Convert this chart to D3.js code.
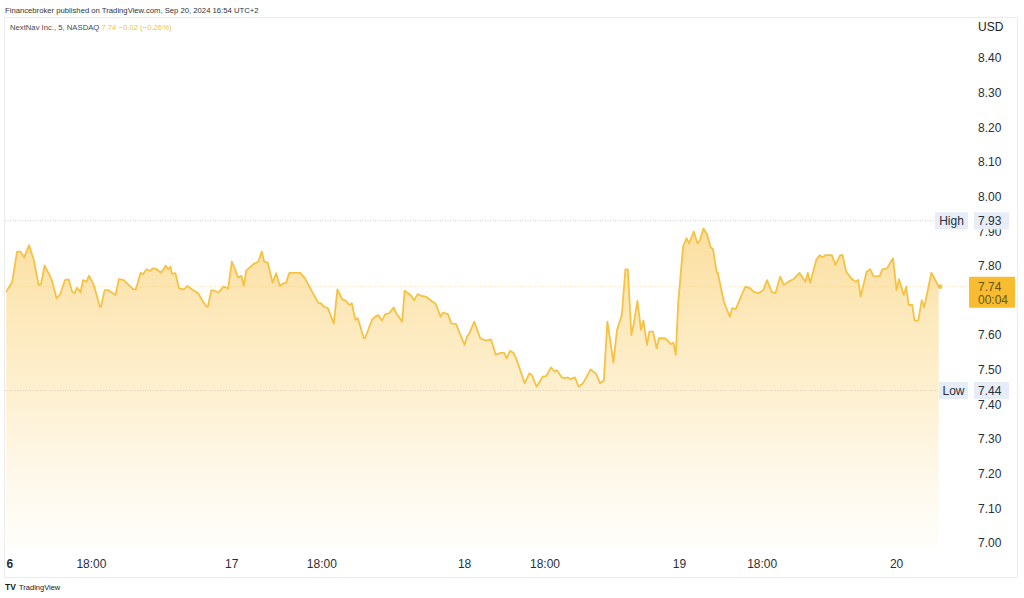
<!DOCTYPE html>
<html>
<head>
<meta charset="utf-8">
<script src="https://cdn.jsdelivr.net/npm/d3@7"></script>
<style>
  html, body { margin: 0; padding: 0; background: #ffffff; }
  svg { display: block; font-family: "Liberation Sans", Arial, sans-serif; }
</style>
</head>
<body>
<svg id="chart" width="1024" height="598"></svg>
<script>
// ---- data (5-minute bar index, close price) ----
const bars = [1,6,10,13,16,20,24,28,30,33,37,39,43,46,50,53,56,58,60,63,65,68,70,74,79,80,83,86,92,95,99,107,109,113,115,118,121,123,126,130,134,136,138,139,142,145,149,152,156,161,165,168,169,172,175,178,182,186,189,192,194,197,199,201,207,211,214,216,219,223,226,229,232,234,237,246,250,256,261,263,266,269,274,277,281,284,287,289,292,294,299,300,306,308,311,314,317,320,324,326,331,333,338,341,344,347,351,356,359,363,365,369,372,376,378,383,385,387,391,396,401,405,409,413,416,418,421,424,427,433,437,439,443,448,451,455,458,460,464,467,469,471,475,478,481,483,488,492,493,496,499,502,507,510,514,517,519,522,524,527,530,532,535,537,540,543,545,550,555,557,559,561,565,568,570,574,577,579,582,585,588,590,593,594,599,604,606,609,613,617,621,624,628,632,635,639,642,646,649,654,657,662,667,669,671,676,679,681,684,689,692,696,698,701,706,709,711,713,718,721,724,729,731,735,740,743,745,749,751,753,756,758,761,764,766,772,776,778];
const prices = [7.725,7.754,7.841,7.841,7.824,7.860,7.817,7.745,7.747,7.801,7.774,7.759,7.706,7.718,7.759,7.761,7.725,7.721,7.737,7.723,7.759,7.754,7.772,7.745,7.682,7.682,7.730,7.730,7.716,7.762,7.759,7.732,7.732,7.780,7.776,7.790,7.785,7.793,7.791,7.780,7.801,7.790,7.798,7.777,7.779,7.735,7.732,7.742,7.732,7.721,7.697,7.682,7.682,7.730,7.728,7.723,7.740,7.735,7.812,7.788,7.767,7.771,7.742,7.786,7.805,7.812,7.841,7.812,7.809,7.751,7.779,7.742,7.750,7.750,7.780,7.780,7.764,7.725,7.694,7.692,7.682,7.678,7.634,7.732,7.704,7.699,7.687,7.692,7.644,7.649,7.591,7.591,7.646,7.652,7.658,7.642,7.661,7.663,7.680,7.663,7.639,7.728,7.716,7.701,7.719,7.713,7.711,7.697,7.690,7.653,7.665,7.661,7.634,7.632,7.613,7.572,7.596,7.605,7.639,7.591,7.584,7.588,7.543,7.549,7.549,7.533,7.555,7.548,7.523,7.461,7.490,7.485,7.451,7.480,7.482,7.507,7.495,7.499,7.478,7.475,7.478,7.473,7.478,7.451,7.459,7.469,7.501,7.490,7.485,7.461,7.469,7.639,7.521,7.615,7.658,7.790,7.790,7.600,7.634,7.699,7.615,7.642,7.572,7.610,7.610,7.562,7.591,7.591,7.574,7.578,7.543,7.692,7.855,7.880,7.865,7.899,7.865,7.873,7.908,7.892,7.854,7.848,7.783,7.780,7.697,7.653,7.678,7.675,7.709,7.740,7.735,7.725,7.721,7.730,7.759,7.725,7.721,7.769,7.745,7.757,7.761,7.780,7.754,7.780,7.751,7.817,7.831,7.825,7.831,7.831,7.803,7.831,7.831,7.783,7.761,7.754,7.759,7.711,7.783,7.790,7.769,7.771,7.790,7.793,7.822,7.730,7.761,7.716,7.740,7.687,7.687,7.642,7.642,7.701,7.680,7.780,7.754,7.740];
const xTickBars = [4, 72, 189, 264, 383, 450, 562, 631, 743];
const xTickLabels = ["6", "18:00", "17", "18:00", "18", "18:00", "19", "18:00", "20"];
// 7.70 is hidden behind the last-price label in the reference
const yTicks = [7.00, 7.10, 7.20, 7.30, 7.40, 7.50, 7.60, 7.80, 7.90, 8.00, 8.10, 8.20, 8.30, 8.40];
const highValue = 7.93;
const lowValue = 7.44;
const lastPrice = 7.74;
const lastChange = "−0.02 (−0.26%)";
const countdown = "00:04";
const publishLine = "Financebroker published on TradingView.com, Sep 20, 2024 16:54 UTC+2";
const symbolLine = "NextNav Inc., 5, NASDAQ";

// ---- layout ----
const svg = d3.select("#chart");
const lineColor = "#f6c244";
const data = bars.map((b, i) => ({ b: b, p: prices[i] }));

const x = d3.scaleLinear().domain([0, 800]).range([5, 965]);
const y = d3.scaleLinear().domain([7.0, 8.4]).range([543, 58]);
const plotBottom = 546;

svg.append("rect").attr("width", 1024).attr("height", 598).attr("fill", "#ffffff");

// header
svg.append("text").attr("x", 5).attr("y", 13)
  .attr("font-size", 7.7).attr("fill", "#333333").text(publishLine);

// frame
svg.append("rect").attr("x", 4.5).attr("y", 17.5).attr("width", 1013).attr("height", 560)
  .attr("fill", "none").attr("stroke", "#ececec").attr("stroke-width", 1);

const sym = svg.append("text").attr("x", 10).attr("y", 30).attr("font-size", 7.7);
sym.append("tspan").attr("fill", "#4a4a4a").text(symbolLine + " ");
sym.append("tspan").attr("fill", "#f0c24a").text(" " + lastPrice.toFixed(2) + "  " + lastChange);

// gradient
const defs = svg.append("defs");
const grad = defs.append("linearGradient").attr("id", "fillGrad")
  .attr("gradientUnits", "userSpaceOnUse")
  .attr("x1", 0).attr("x2", 0).attr("y1", y(highValue)).attr("y2", plotBottom);
grad.append("stop").attr("offset", "0%").attr("stop-color", "#f8c24a").attr("stop-opacity", 0.55);
grad.append("stop").attr("offset", "55%").attr("stop-color", "#fbd57e").attr("stop-opacity", 0.35);
grad.append("stop").attr("offset", "100%").attr("stop-color", "#fde7b5").attr("stop-opacity", 0.08);

// high / low / last price reference lines
svg.append("line").attr("x1", 5).attr("x2", 935).attr("y1", y(highValue)).attr("y2", y(highValue))
  .attr("stroke", "#b8bcc4").attr("stroke-width", 0.8).attr("stroke-dasharray", "1,1.5");
svg.append("line").attr("x1", 5).attr("x2", 938).attr("y1", y(lowValue)).attr("y2", y(lowValue))
  .attr("stroke", "#b8bcc4").attr("stroke-width", 0.8).attr("stroke-dasharray", "1,1.5");
svg.append("line").attr("x1", 5).attr("x2", 969).attr("y1", y(lastPrice)).attr("y2", y(lastPrice))
  .attr("stroke", "#f3dca0").attr("stroke-width", 0.8).attr("stroke-dasharray", "1,1.5");

// area + line
const area = d3.area().x(d => x(d.b)).y0(plotBottom).y1(d => y(d.p));
const line = d3.line().x(d => x(d.b)).y(d => y(d.p));
svg.append("path").datum(data).attr("d", area).attr("fill", "url(#fillGrad)");
svg.append("path").datum(data).attr("d", line).attr("fill", "none")
  .attr("stroke", lineColor).attr("stroke-width", 1.8).attr("stroke-linejoin", "round");
const last = data[data.length - 1];
svg.append("circle").attr("cx", x(last.b) + 1.5).attr("cy", y(last.p)).attr("r", 2.3).attr("fill", lineColor);

// y axis labels
svg.append("text").attr("x", 978).attr("y", 31).attr("font-size", 12).attr("fill", "#222").text("USD");
svg.append("g").selectAll("text").data(yTicks).join("text")
  .attr("x", 978).attr("y", d => y(d) + 4.3)
  .attr("font-size", 12).attr("fill", "#2a2e39")
  .text(d => d.toFixed(2));

// x axis labels
svg.append("g").selectAll("text").data(xTickBars).join("text")
  .attr("x", d => x(d)).attr("y", 568)
  .attr("text-anchor", "middle").attr("font-size", 12).attr("fill", "#2a2e39")
  .attr("font-weight", (d, i) => i === 0 ? "bold" : "normal")
  .text((d, i) => xTickLabels[i]);

// High / Low labels
function refLabel(name, value, boxX, boxW) {
  const cy = y(value);
  svg.append("rect").attr("x", boxX).attr("y", cy - 8.5).attr("width", boxW).attr("height", 17)
    .attr("fill", "#e6edf8");
  svg.append("text").attr("x", boxX + boxW / 2).attr("y", cy + 4.3).attr("text-anchor", "middle")
    .attr("font-size", 12).attr("fill", "#2a2e39").text(name);
  svg.append("rect").attr("x", 974).attr("y", cy - 8.5).attr("width", 35).attr("height", 17)
    .attr("fill", "#e6edf8");
  svg.append("text").attr("x", 978).attr("y", cy + 4.3)
    .attr("font-size", 12).attr("fill", "#2a2e39").text(value.toFixed(2));
}
refLabel("High", highValue, 935, 33);
refLabel("Low", lowValue, 939, 29);

// last price label
const lp = y(lastPrice);
svg.append("rect").attr("x", 969).attr("y", lp - 10).attr("width", 46).attr("height", 31)
  .attr("fill", "#f8bc30").attr("rx", 1);
svg.append("text").attr("x", 978).attr("y", lp + 4.3).attr("font-size", 12).attr("fill", "#6a5318")
  .text(lastPrice.toFixed(2));
svg.append("text").attr("x", 978).attr("y", lp + 17.5).attr("font-size", 12).attr("fill", "#6a5318")
  .text(countdown);

// footer logo
svg.append("text").attr("x", 5).attr("y", 590).attr("font-size", 8.5).attr("font-weight", 900)
  .attr("fill", "#131722").text("TV");
svg.append("text").attr("x", 19).attr("y", 590).attr("font-size", 7.5).attr("fill", "#131722")
  .text("TradingView");
</script>
</body>
</html>
